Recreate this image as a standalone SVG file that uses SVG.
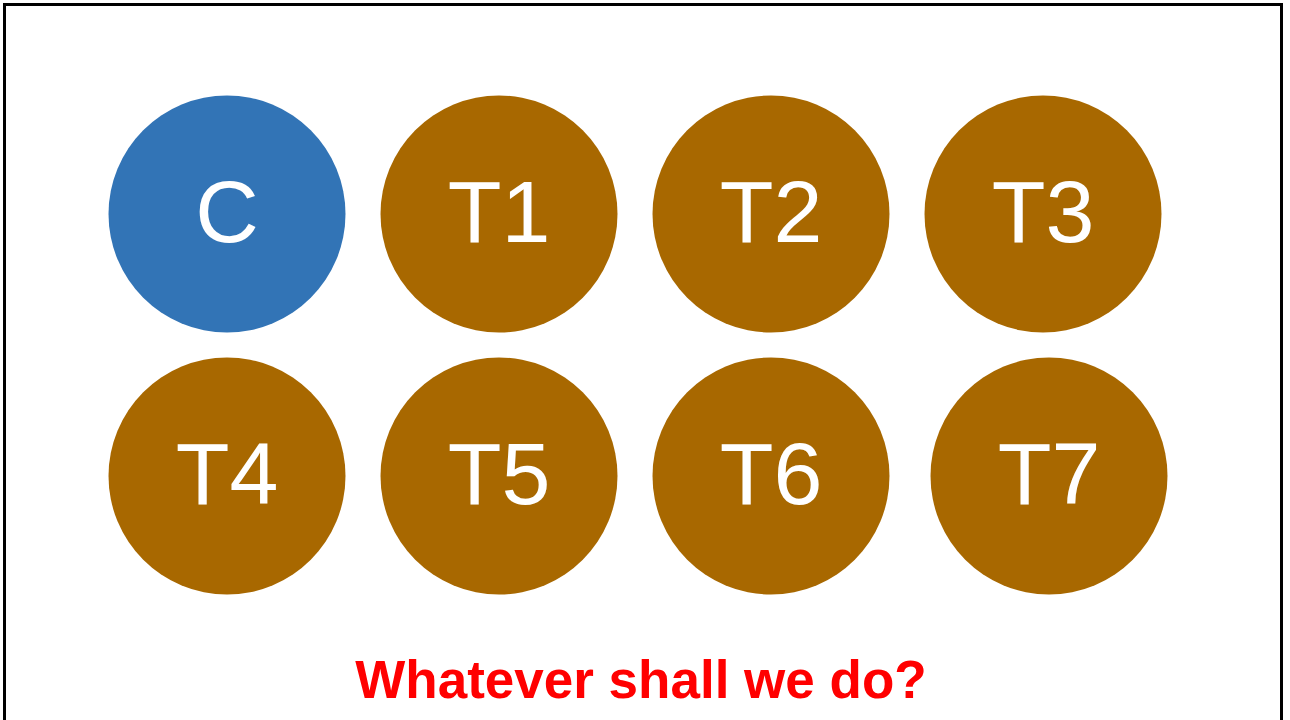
<svg xmlns="http://www.w3.org/2000/svg" width="1290" height="720" viewBox="0 0 1290 720">
  <style>
    .node { stroke: none; }
    .blue { fill: #3274B6; }
    .brown { fill: #A86800; }
    .lbl { font-family: "Liberation Sans", Arial, sans-serif; font-size: 88px; fill: #ffffff; text-anchor: middle; }
    .title { font-family: "Liberation Sans", Arial, sans-serif; font-size: 53px; font-weight: bold; fill: #ff0000; text-anchor: middle; }
  </style>
  <rect x="0" y="0" width="1290" height="720" fill="#ffffff"/>
  <rect x="4.5" y="4.5" width="1277" height="730" fill="none" stroke="#000000" stroke-width="3"/>
  <g id="node-C"><circle class="node blue" cx="227" cy="214" r="118.5"/><text class="lbl" x="227" y="242">C</text></g>
  <g id="node-T1"><circle class="node brown" cx="499" cy="214" r="118.5"/><text class="lbl" x="499" y="242">T1</text></g>
  <g id="node-T2"><circle class="node brown" cx="771" cy="214" r="118.5"/><text class="lbl" x="771" y="242">T2</text></g>
  <g id="node-T3"><circle class="node brown" cx="1043" cy="214" r="118.5"/><text class="lbl" x="1043" y="242">T3</text></g>
  <g id="node-T4"><circle class="node brown" cx="227" cy="476" r="118.5"/><text class="lbl" x="227" y="504">T4</text></g>
  <g id="node-T5"><circle class="node brown" cx="499" cy="476" r="118.5"/><text class="lbl" x="499" y="504">T5</text></g>
  <g id="node-T6"><circle class="node brown" cx="771" cy="476" r="118.5"/><text class="lbl" x="771" y="504">T6</text></g>
  <g id="node-T7"><circle class="node brown" cx="1049" cy="476" r="118.5"/><text class="lbl" x="1049" y="504">T7</text></g>
  <g id="connectors"></g>
  <text class="title" x="641" y="698">Whatever shall we do?</text>
</svg>
